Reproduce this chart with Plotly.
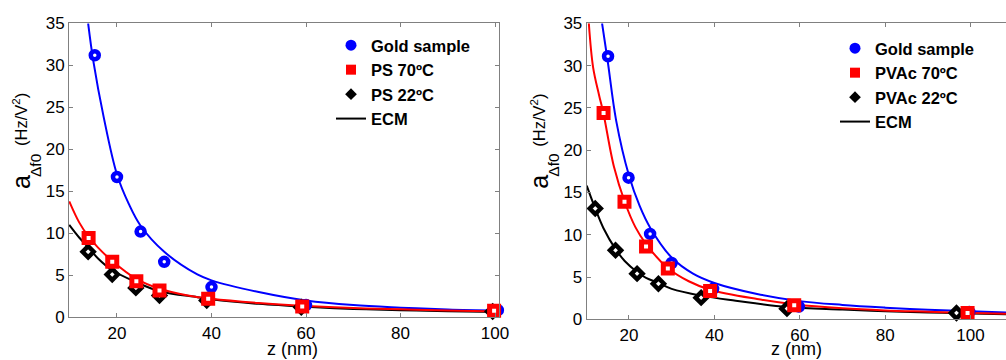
import plotly.graph_objects as go

# ---------------- PS panel (left) ----------------
ps_gold_z = [15.3, 20.0, 25.0, 30.0, 40.0, 60.0, 100.6]
ps_gold_a = [31.2, 16.7, 10.2, 6.6, 3.6, 1.45, 0.85]
ps70_z = [14.0, 19.0, 24.1, 29.0, 39.3, 59.2, 99.8]
ps70_a = [9.45, 6.6, 4.3, 3.2, 2.2, 1.3, 0.78]
ps22_z = [13.9, 19.0, 24.0, 29.0, 39.0, 59.0, 99.5]
ps22_a = [7.8, 5.1, 3.5, 2.6, 2.0, 1.2, 0.7]

# ECM fits (left)
ps_gold_fit_z = [13.9, 15.0, 17.2, 20.0, 22.5, 25.0, 30.0, 37.0, 40.0, 50.0, 60.0, 70.0, 80.0, 90.0, 100.9]
ps_gold_fit_a = [35.0, 30.5, 23.8, 17.0, 13.5, 10.9, 7.8, 5.1, 4.4, 3.0, 2.0, 1.45, 1.15, 0.92, 0.78]
ps70_fit_z = [9.9, 12.0, 14.0, 16.0, 19.0, 24.0, 29.0, 35.0, 40.0, 50.0, 60.0, 70.0, 80.0, 90.0, 100.9]
ps70_fit_a = [13.8, 11.3, 9.6, 8.3, 6.7, 4.6, 3.4, 2.6, 2.2, 1.7, 1.35, 1.1, 0.95, 0.82, 0.7]
ps22_fit_z = [9.9, 12.0, 14.0, 16.0, 19.0, 24.0, 29.0, 37.0, 40.0, 50.0, 60.0, 70.0, 80.0, 90.0, 100.9]
ps22_fit_a = [11.0, 9.5, 8.3, 7.0, 5.6, 4.2, 3.1, 2.4, 2.15, 1.6, 1.25, 1.0, 0.85, 0.72, 0.62]

# ---------------- PVAc panel (right) ----------------
pv_gold_z = [15.1, 19.9, 24.95, 30.0, 39.7, 59.8, 99.7]
pv_gold_a = [31.1, 16.75, 10.1, 6.66, 3.6, 1.5, 0.86]
pv70_z = [14.05, 18.95, 24.0, 29.1, 39.0, 58.7, 99.3]
pv70_a = [24.4, 13.9, 8.6, 6.0, 3.35, 1.66, 0.75]
pv22_z = [12.1, 16.85, 21.9, 26.9, 36.9, 57.0, 96.7]
pv22_a = [13.1, 8.16, 5.4, 4.2, 2.56, 1.26, 0.75]

# ECM fits (right)
pv_gold_fit_z = [13.7, 15.0, 17.0, 20.0, 22.5, 25.0, 30.0, 35.0, 40.0, 50.0, 60.0, 70.0, 80.0, 90.0, 100.0, 108.3]
pv_gold_fit_a = [35.0, 30.6, 23.5, 17.0, 13.4, 10.8, 7.3, 5.4, 4.3, 3.0, 2.15, 1.7, 1.38, 1.12, 0.95, 0.8]
pv70_fit_z = [10.6, 11.6, 13.0, 14.0, 16.5, 19.0, 21.5, 24.0, 29.0, 34.0, 39.0, 50.0, 59.0, 70.0, 80.0, 90.0, 100.0, 108.3]
pv70_fit_a = [35.0, 29.8, 26.5, 24.4, 18.0, 13.9, 10.9, 8.9, 6.1, 4.5, 3.5, 2.4, 1.75, 1.3, 1.05, 0.9, 0.75, 0.65]
pv22_fit_z = [10.1, 12.1, 14.0, 16.85, 19.0, 21.9, 24.0, 26.9, 30.0, 36.9, 45.0, 57.0, 70.0, 80.0, 90.0, 100.0, 108.3]
pv22_fit_a = [15.8, 13.1, 10.8, 8.3, 6.9, 5.6, 4.9, 4.3, 3.6, 2.8, 2.2, 1.45, 1.15, 0.95, 0.8, 0.7, 0.6]

x_ticks = [20, 40, 60, 80, 100]
y_ticks = [0, 5, 10, 15, 20, 25, 30, 35]

BLUE = "#0000ff"
RED = "#ff0000"
BLACK = "#000000"
FONT = "Arial, Liberation Sans, sans-serif"

fig = go.Figure()


def fit_line(xa, ya, z, a, color):
    fig.add_trace(go.Scatter(
        x=z, y=a, xaxis=xa, yaxis=ya, mode="lines", line_shape="spline",
        line=dict(color=color, width=2), showlegend=False, hoverinfo="skip"))


def points(xa, ya, z, a, color, symbol, size, lw):
    fig.add_trace(go.Scatter(
        x=z, y=a, xaxis=xa, yaxis=ya, mode="markers", cliponaxis=False,
        marker=dict(symbol=symbol, size=size, color="white",
                    line=dict(color=color, width=lw)),
        showlegend=False))


def legend_entry(xa, ya, legend, group, name, color, symbol=None, size=10):
    if symbol is None:
        fig.add_trace(go.Scatter(
            x=[None], y=[None], xaxis=xa, yaxis=ya, mode="lines",
            line=dict(color=color, width=2), name=name,
            legend=legend, legendgroup=group))
    else:
        fig.add_trace(go.Scatter(
            x=[None], y=[None], xaxis=xa, yaxis=ya, mode="markers",
            marker=dict(symbol=symbol, size=size, color=color), name=name,
            legend=legend, legendgroup=group))


# left panel
fit_line("x", "y", ps_gold_fit_z, ps_gold_fit_a, BLUE)
fit_line("x", "y", ps22_fit_z, ps22_fit_a, BLACK)
fit_line("x", "y", ps70_fit_z, ps70_fit_a, RED)
points("x", "y", ps22_z, ps22_a, BLACK, "diamond", 8.5, 4.5)
points("x", "y", ps_gold_z, ps_gold_a, BLUE, "circle", 8, 4.5)
points("x", "y", ps70_z, ps70_a, RED, "square", 9, 5)

# right panel
fit_line("x2", "y2", pv_gold_fit_z, pv_gold_fit_a, BLUE)
fit_line("x2", "y2", pv22_fit_z, pv22_fit_a, BLACK)
fit_line("x2", "y2", pv70_fit_z, pv70_fit_a, RED)
points("x2", "y2", pv22_z, pv22_a, BLACK, "diamond", 8.5, 4.5)
points("x2", "y2", pv_gold_z, pv_gold_a, BLUE, "circle", 8, 4.5)
points("x2", "y2", pv70_z, pv70_a, RED, "square", 9, 5)

# legends
legend_entry("x", "y", "legend", "a1", "Gold sample", BLUE, "circle", 11)
legend_entry("x", "y", "legend", "a2", "PS 70ºC", RED, "square", 10)
legend_entry("x", "y", "legend", "a3", "PS 22ºC", BLACK, "diamond", 9)
legend_entry("x", "y", "legend", "a4", "ECM", BLACK)
legend_entry("x2", "y2", "legend2", "b1", "Gold sample", BLUE, "circle", 11)
legend_entry("x2", "y2", "legend2", "b2", "PVAc 70ºC", RED, "square", 10)
legend_entry("x2", "y2", "legend2", "b3", "PVAc 22ºC", BLACK, "diamond", 9)
legend_entry("x2", "y2", "legend2", "b4", "ECM", BLACK)

W, H = 1006, 360
axis_common = dict(
    showgrid=False, zeroline=False, showline=True, linecolor="#808080",
    linewidth=1, ticks="inside", ticklen=4, tickcolor="#808080",
    tickfont=dict(family=FONT, size=17, color="black"))

legend_style = dict(
    font=dict(family=FONT, size=16.5, color="black", weight="bold"),
    bgcolor="rgba(0,0,0,0)", borderwidth=0, tracegroupgap=0,
    xanchor="left", yanchor="top", itemwidth=30)

fig.update_layout(
    width=W, height=H,
    margin=dict(l=0, r=0, t=0, b=0, autoexpand=False),
    paper_bgcolor="white", plot_bgcolor="white", showlegend=True,
    xaxis=dict(domain=[69 / W, 499.3 / W], range=[9.85, 100.9],
               tickvals=x_ticks, mirror="ticks", anchor="y", **axis_common),
    yaxis=dict(domain=[1 - 317.3 / H, 1 - 23.3 / H], range=[0, 35],
               tickvals=y_ticks, mirror="ticks", anchor="x", **axis_common),
    xaxis2=dict(domain=[586.7 / W, 1.0], range=[10.1, 108.3],
                tickvals=x_ticks, mirror="ticks", anchor="y2", **axis_common),
    yaxis2=dict(domain=[1 - 319.3 / H, 1 - 23.3 / H], range=[0, 35],
                tickvals=y_ticks, mirror=False, anchor="x2", **axis_common),
    legend=dict(x=331 / W, y=1 - 28 / H, **legend_style),
    legend2=dict(x=835 / W, y=1 - 31 / H, **legend_style),
)


def label(text, px, py, size, angle=0):
    fig.add_annotation(text=text, xref="paper", yref="paper",
                       x=px / W, y=1 - py / H, xanchor="center", yanchor="middle",
                       showarrow=False, textangle=angle,
                       font=dict(family=FONT, size=size, color="black"))


# axis titles
for ax_px, zx in ((69, 292), (586.7, 796)):
    label("z (nm)", zx, 349, 18)
    label("a", ax_px - 48, 182, 25, -90)
    label("Δf0", ax_px - 33, 165, 15.5, -90)
    label("(Hz/V<sup>2</sup>)", ax_px - 49, 120, 16.5, -90)

fig.write_html("out.html")
